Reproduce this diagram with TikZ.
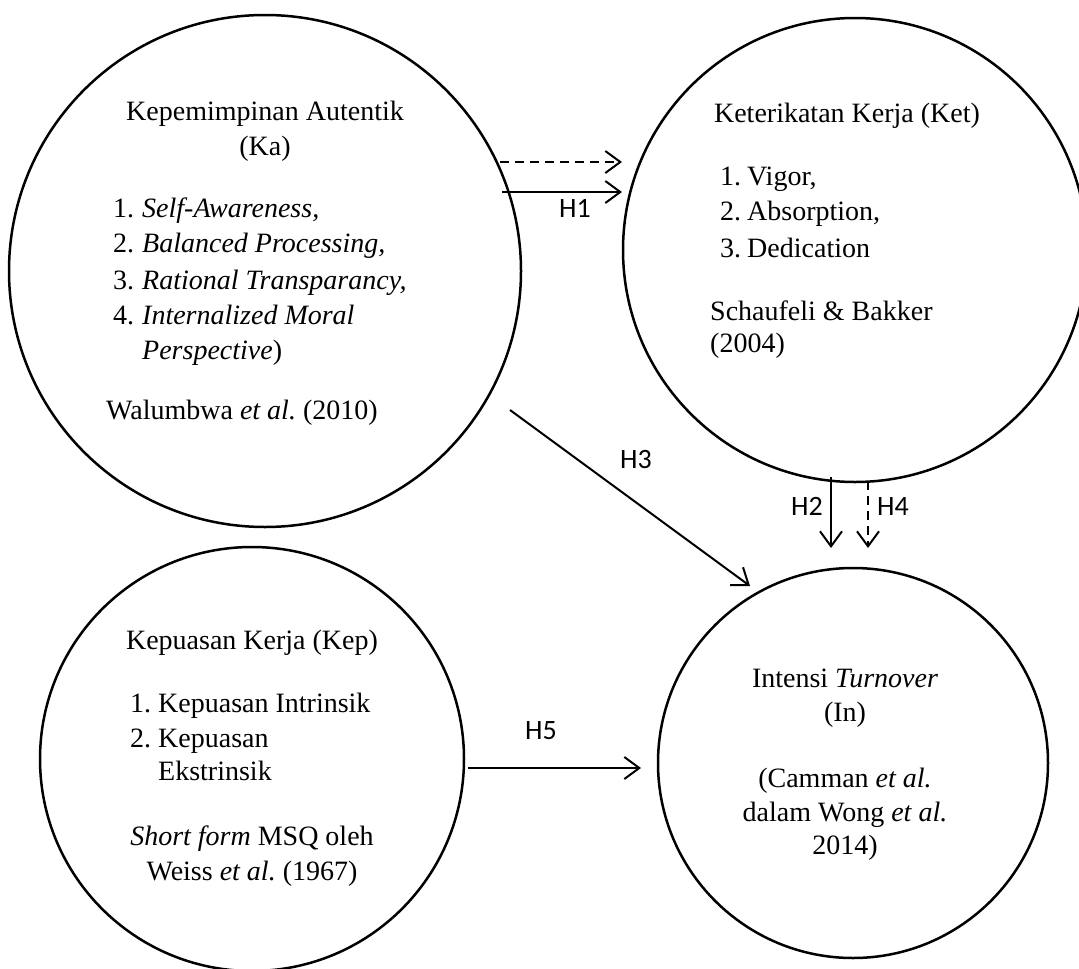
\documentclass[tikz,border=0pt]{standalone}
\usepackage{fontspec}
\setmainfont{Liberation Serif}
\newfontfamily\labelfont{Carlito}
\usetikzlibrary{arrows.meta}
\frenchspacing
\begin{document}
\begin{tikzpicture}[x=1pt,y=-1pt,
  ring/.style={circle,draw,line width=2.5pt,inner sep=0pt},
  txt/.style={inner sep=0pt,font=\fontsize{28}{35}\selectfont},
  hlab/.style={inner sep=0pt,font=\labelfont\fontsize{28}{32}\selectfont},
  conn/.style={line width=2pt,-{Straight Barb[length=15pt,width=22pt,line width=2pt]}},
  dconn/.style={conn,dash pattern=on 9pt off 6pt}]
\useasboundingbox (0,0) rectangle (1079,969);
\clip (0,0) rectangle (1079,969);
\fill[white] (0,0) rectangle (1079,969);

% circles
\node[ring,minimum size=512pt] (ka) at (265,271) {};
\node[ring,minimum size=464pt] (ket) at (855,250) {};
\node[ring,minimum size=424pt] (kep) at (252,759) {};
\node[ring,minimum size=390pt] (in) at (853,763) {};

% Ka text
\node[txt,anchor=mid] (ka1) at (265,118) {Kepemimpinan Autentik};
\node[txt,anchor=mid] (ka2) at (265,153) {(Ka)};
\node[txt,anchor=mid west] (kan1) at (113,215) {1.};
\node[txt,anchor=mid west] (kai1) at (142,215) {\textit{Self-Awareness,}};
\node[txt,anchor=mid west] (kan2) at (113,250) {2.};
\node[txt,anchor=mid west] (kai2) at (142,250) {\textit{Balanced Processing,}};
\node[txt,anchor=mid west] (kan3) at (113,287) {3.};
\node[txt,anchor=mid west] (kai3) at (142,287) {\textit{Rational Transparancy,}};
\node[txt,anchor=mid west] (kan4) at (113,322) {4.};
\node[txt,anchor=mid west] (kai4) at (142,322) {\textit{Internalized Moral}};
\node[txt,anchor=mid west] (kai5) at (142,357) {\textit{Perspective})};
\node[txt,anchor=mid west] (kasrc) at (106,417) {Walumbwa \textit{et al.} (2010)};

% Ket text
\node[txt,anchor=mid] (ket1) at (847,120) {Keterikatan Kerja (Ket)};
\node[txt,anchor=mid west] (ketn1) at (720,183) {1.};
\node[txt,anchor=mid west] (keti1) at (747,183) {Vigor,};
\node[txt,anchor=mid west] (ketn2) at (720,218) {2.};
\node[txt,anchor=mid west] (keti2) at (747,218) {Absorption,};
\node[txt,anchor=mid west] (ketn3) at (720,255) {3.};
\node[txt,anchor=mid west] (keti3) at (747,255) {Dedication};
\node[txt,anchor=mid west] (ketsrc1) at (710,318) {Schaufeli \& Bakker};
\node[txt,anchor=mid west] (ketsrc2) at (710,350) {(2004)};

% Kep text
\node[txt,anchor=mid] (kep1) at (252,647) {Kepuasan Kerja (Kep)};
\node[txt,anchor=mid west] (kepn1) at (130,710) {1.};
\node[txt,anchor=mid west] (kepi1) at (158,710) {Kepuasan Intrinsik};
\node[txt,anchor=mid west] (kepn2) at (130,745) {2.};
\node[txt,anchor=mid west] (kepi2) at (158,745) {Kepuasan};
\node[txt,anchor=mid west] (kepi3) at (158,778) {Ekstrinsik};
\node[txt,anchor=mid] (kepsrc1) at (252,843) {\textit{Short form} MSQ oleh};
\node[txt,anchor=mid] (kepsrc2) at (252,878) {Weiss \textit{et al.} (1967)};

% In text
\node[txt,anchor=mid] (in1) at (845,685) {Intensi \textit{Turnover}};
\node[txt,anchor=mid] (in2) at (845,719) {(In)};
\node[txt,anchor=mid] (in3) at (845,785) {(Camman \textit{et al.}};
\node[txt,anchor=mid] (in4) at (845,819) {dalam Wong \textit{et al.}};
\node[txt,anchor=mid] (in5) at (845,852) {2014)};

% connector end points
\coordinate (h1da) at (500,162);
\coordinate (h1db) at (622,162);
\coordinate (h1sa) at (502,192);
\coordinate (h1sb) at (622,192);
\coordinate (h3a) at (510,410);
\coordinate (h3b) at (750,586);
\coordinate (h2a) at (831,477);
\coordinate (h2b) at (831,548);
\coordinate (h4a) at (868,481);
\coordinate (h4b) at (868,548);
\coordinate (h5a) at (468,768);
\coordinate (h5b) at (641,768);

\draw[dconn] (h1da) -- (h1db);
\draw[conn] (h1sa) -- (h1sb);
\draw[conn] (h3a) -- (h3b);
\draw[conn] (h2a) -- (h2b);
\draw[dconn] (h4a) -- (h4b);
\draw[conn] (h5a) -- (h5b);

% labels
\node[hlab,anchor=mid] (lh1) at (575,215) {H1};
\node[hlab,anchor=mid] (lh3) at (636,466) {H3};
\node[hlab,anchor=mid] (lh2) at (807,513) {H2};
\node[hlab,anchor=mid] (lh4) at (893,513) {H4};
\node[hlab,anchor=mid] (lh5) at (541,737) {H5};
\end{tikzpicture}
\end{document}
